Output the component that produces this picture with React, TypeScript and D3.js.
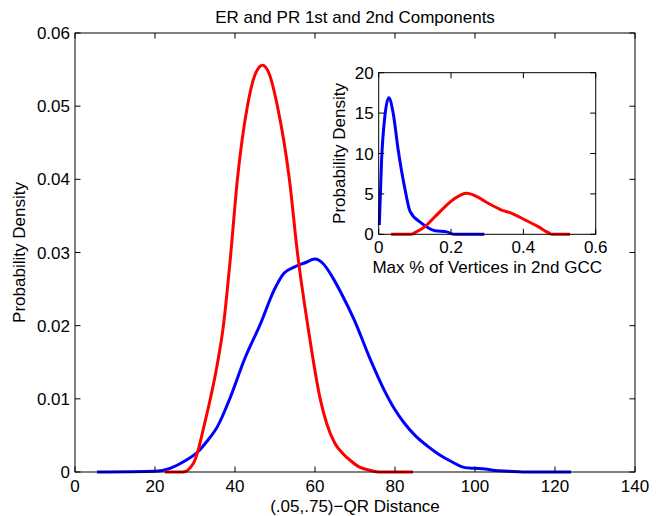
import React from "react";
import * as d3 from "d3";

const W = 662;
const H = 516;

const mainXTicks = [0, 20, 40, 60, 80, 100, 120, 140];
const mainYTicks = [0, 0.01, 0.02, 0.03, 0.04, 0.05, 0.06];
const insetXTicks = [0, 0.2, 0.4, 0.6];
const insetYTicks = [0, 5, 10, 15, 20];

// Main plot: ER (red) and PR (blue) densities of the QR distance
const redMainX = [22.5, 27, 29.6, 30.8, 32, 33.75, 35.5, 37.1, 38.8, 40.6, 43.1, 45, 46.9, 48.5, 50.6, 53.6, 55.6, 58.2, 61.3, 63, 65, 67, 69, 71, 74, 76, 84.5];
const redMainY = [0, 0, 0.0012, 0.003, 0.0057, 0.0098, 0.0145, 0.02, 0.029, 0.04, 0.05, 0.0543, 0.0556, 0.0545, 0.05, 0.04, 0.03, 0.02, 0.01, 0.0065, 0.0039, 0.0025, 0.0015, 0.0007, 0.0002, 0, 0];

const blueMainX = [5.5, 20, 23.75, 27.1, 30.8, 33, 35.6, 38.9, 42.3, 46.4, 49.8, 52.3, 54.8, 57.5, 60, 62, 64.5, 66.5, 69.8, 73.9, 77.3, 80, 82.3, 85, 88.2, 91, 94.2, 97.5, 100, 102.6, 105, 108.4, 112, 124];
const blueMainY = [0, 0.0001, 0.0005, 0.0014, 0.0028, 0.0042, 0.0062, 0.0103, 0.0153, 0.0203, 0.0249, 0.0272, 0.028, 0.0286, 0.0291, 0.0285, 0.0265, 0.0245, 0.0208, 0.0153, 0.0112, 0.0085, 0.0067, 0.005, 0.0035, 0.0024, 0.0014, 0.0006, 0.0005, 0.0004, 0.0002, 0.0001, 0, 0];

// Inset: Max % of vertices in 2nd GCC
const blueInsetX = [0.0017, 0.008, 0.017, 0.028, 0.04, 0.054, 0.073, 0.087, 0.119, 0.156, 0.188, 0.21, 0.292];
const blueInsetY = [1.15, 9.2, 14.6, 16.9, 15.0, 10.4, 5.5, 2.8, 1.36, 0.45, 0.3, 0, 0];

const redInsetX = [0.034, 0.09, 0.1, 0.128, 0.156, 0.183, 0.211, 0.243, 0.27, 0.303, 0.34, 0.368, 0.405, 0.441, 0.469, 0.48, 0.529];
const redInsetY = [0, 0, 0.2, 0.95, 2.2, 3.4, 4.45, 5.07, 4.7, 3.84, 3.0, 2.6, 1.77, 0.95, 0.2, 0, 0];

const FONT = "'Liberation Sans', Arial, Helvetica, sans-serif";
const FS = 17;
const TICK = 5.5;

function zip(xs: number[], ys: number[]): [number, number][] {
  return xs.map((x, i) => [x, ys[i]]);
}

function fmtMain(v: number) {
  return v === 0 ? "0" : d3.format(".2f")(v);
}
function fmtInsetX(v: number) {
  return v === 0 ? "0" : d3.format(".1f")(v);
}

type AxesProps = {
  x: d3.ScaleLinear<number, number>;
  y: d3.ScaleLinear<number, number>;
  xTicks: number[];
  yTicks: number[];
  fx: (v: number) => string;
  fy: (v: number) => string;
  xLabelGap: number;
};

function Axes({ x, y, xTicks, yTicks, fx, fy, xLabelGap }: AxesProps) {
  const [x0, x1] = x.range();
  const [y0, y1] = y.range();
  return (
    <g>
      {xTicks.map((t) => (
        <g key={"x" + t}>
          <line x1={x(t)} x2={x(t)} y1={y0} y2={y0 - TICK} stroke="#000" />
          <line x1={x(t)} x2={x(t)} y1={y1} y2={y1 + TICK} stroke="#000" />
          <text x={x(t)} y={y0 + xLabelGap} textAnchor="middle" fontSize={FS} fontFamily={FONT}>
            {fx(t)}
          </text>
        </g>
      ))}
      {yTicks.map((t) => (
        <g key={"y" + t}>
          <line x1={x0} x2={x0 + TICK} y1={y(t)} y2={y(t)} stroke="#000" />
          <line x1={x1} x2={x1 - TICK} y1={y(t)} y2={y(t)} stroke="#000" />
          <text x={x0 - 5} y={y(t)} dy="0.36em" textAnchor="end" fontSize={FS} fontFamily={FONT}>
            {fy(t)}
          </text>
        </g>
      ))}
      <rect x={x0} y={y1} width={x1 - x0} height={y0 - y1} fill="none" stroke="#000" strokeWidth={1} />
    </g>
  );
}

export default function App() {
  const mx = d3.scaleLinear().domain([0, 140]).range([75, 635]);
  const my = d3.scaleLinear().domain([0, 0.06]).range([472, 33]);
  const ix = d3.scaleLinear().domain([0, 0.6]).range([378.7, 595.7]);
  const iy = d3.scaleLinear().domain([0, 20]).range([234.3, 72.7]);

  const mLine = d3
    .line<[number, number]>()
    .x((d) => mx(d[0]))
    .y((d) => my(d[1]))
    .curve(d3.curveMonotoneX);
  const iLine = d3
    .line<[number, number]>()
    .x((d) => ix(d[0]))
    .y((d) => iy(d[1]))
    .curve(d3.curveMonotoneX);

  const mcx = (mx.range()[0] + mx.range()[1]) / 2;
  const mcy = (my.range()[0] + my.range()[1]) / 2;
  const icx = (ix.range()[0] + ix.range()[1]) / 2;
  const icy = (iy.range()[0] + iy.range()[1]) / 2;

  return (
    <svg
      width={W}
      height={H}
      viewBox={`0 0 ${W} ${H}`}
      style={{ position: "absolute", left: 0, top: 0, background: "#fff" }}
    >
      <rect x={0} y={0} width={W} height={H} fill="#fff" />
      {/* main plot */}
      <rect x={75} y={33} width={560} height={439} fill="#fff" />
      <path d={mLine(zip(blueMainX, blueMainY)) || ""} fill="none" stroke="#0000ff" strokeWidth={3} strokeLinejoin="round" />
      <path d={mLine(zip(redMainX, redMainY)) || ""} fill="none" stroke="#ff0000" strokeWidth={3} strokeLinejoin="round" />
      <Axes x={mx} y={my} xTicks={mainXTicks} yTicks={mainYTicks} fx={(v) => String(v)} fy={fmtMain} xLabelGap={20} />
      <text x={mcx} y={23} textAnchor="middle" fontSize={FS} fontFamily={FONT}>
        ER and PR 1st and 2nd Components
      </text>
      <text x={mcx} y={512} textAnchor="middle" fontSize={FS} fontFamily={FONT}>
        (.05,.75)−QR Distance
      </text>
      <text
        transform={`translate(25,${mcy}) rotate(-90)`}
        textAnchor="middle"
        fontSize={FS}
        fontFamily={FONT}
      >
        Probability Density
      </text>

      {/* inset */}
      <rect x={ix.range()[0]} y={iy.range()[1]} width={ix.range()[1] - ix.range()[0]} height={iy.range()[0] - iy.range()[1]} fill="#fff" />
      <path d={iLine(zip(blueInsetX, blueInsetY)) || ""} fill="none" stroke="#0000ff" strokeWidth={3} strokeLinejoin="round" />
      <path d={iLine(zip(redInsetX, redInsetY)) || ""} fill="none" stroke="#ff0000" strokeWidth={3} strokeLinejoin="round" />
      <Axes x={ix} y={iy} xTicks={insetXTicks} yTicks={insetYTicks} fx={fmtInsetX} fy={(v) => String(v)} xLabelGap={19} />
      <text x={icx} y={273} textAnchor="middle" fontSize={FS} fontFamily={FONT}>
        Max % of Vertices in 2nd GCC
      </text>
      <text
        transform={`translate(345,${icy}) rotate(-90)`}
        textAnchor="middle"
        fontSize={FS}
        fontFamily={FONT}
      >
        Probability Density
      </text>
    </svg>
  );
}
